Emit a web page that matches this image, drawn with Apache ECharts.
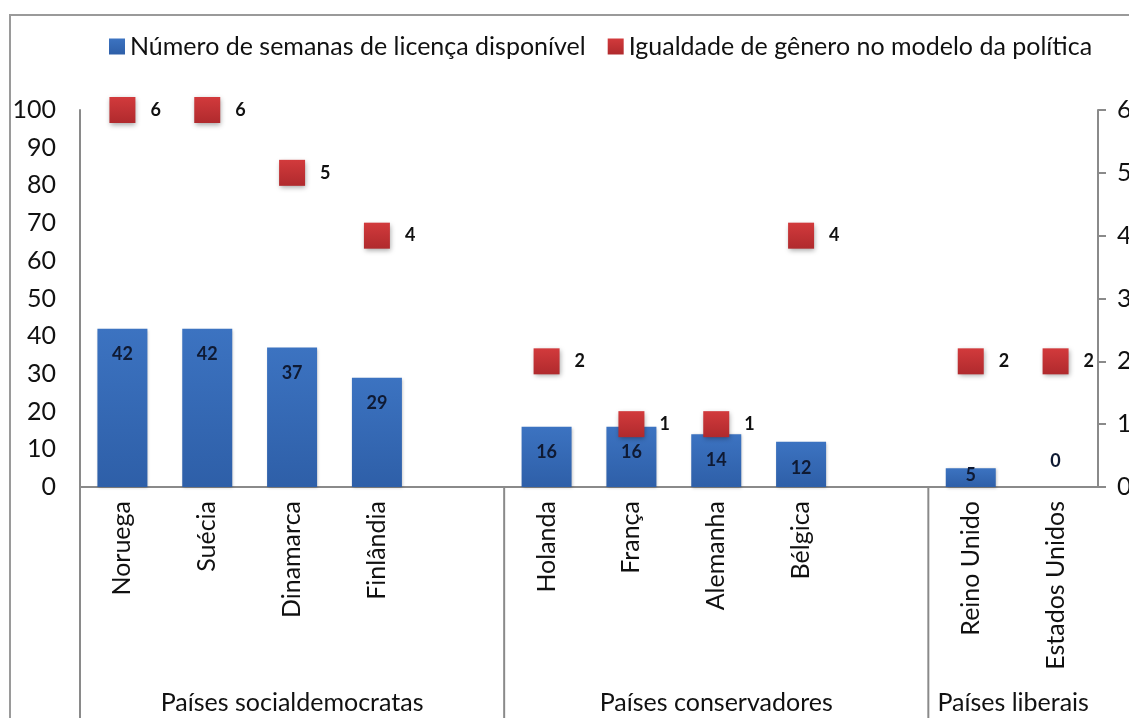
<!DOCTYPE html>
<html>
<head>
<meta charset="utf-8">
<script src="https://cdn.jsdelivr.net/npm/echarts@6/dist/echarts.min.js"></script>
<style>
  html, body { margin: 0; padding: 0; background: #fff; }
  #chart { width: 1129px; height: 718px; }
</style>
</head>
<body>
<div id="chart"></div>
<script>
// categorias (slots vazios separam os grupos)
var countries = ['Noruega', 'Suécia', 'Dinamarca', 'Finlândia', ' ',
  'Holanda', 'França', 'Alemanha', 'Bélgica', '  ',
  'Reino Unido', 'Estados Unidos'];
var weeks = [42, 42, 37, 29, '-', 16, 16, 14, 12, '-', 5, 0];
var equality = [6, 6, 5, 4, '-', 2, 1, 1, 4, '-', 2, 2];
var leftTicks = [0, 100, 10];
var rightTicks = [0, 6, 1];
// grupos: nome, primeiro e último índice
var groupNames = ['Países socialdemocratas', 'Países conservadores', 'Países liberais'];
var groupFrom = [0, 5, 10];
var groupTo = [4, 9, 11];

var FONT = 'Lato, "Open Sans", sans-serif';
var GRAY = '#8a8a8a';

var chart = echarts.init(document.getElementById('chart'));

var barData = weeks.map(function (v, i) {
  if (v === '-') return v;
  var item = { value: v };
  if (v === 0) item.label = { position: 'top', distance: 17 };
  else if (v < 8) item.label = { position: 'insideBottom', distance: 3 };
  return item;
});

chart.setOption({
  animation: false,
  textStyle: { fontFamily: FONT },
  legend: {
    left: 104,
    top: 29,
    itemWidth: 16,
    itemHeight: 16,
    itemGap: 22,
    icon: 'rect',
    textStyle: { fontSize: 25, color: '#111', fontFamily: FONT },
    data: ['Número de semanas de licença disponível', 'Igualdade de gênero no modelo da política']
  },
  grid: { left: 80, right: 31, top: 110, bottom: 231, outerBoundsMode: 'none', containLabel: false },
  xAxis: {
    type: 'category',
    data: countries,
    axisLine: { lineStyle: { color: GRAY, width: 2 } },
    axisTick: { show: false },
    axisLabel: { rotate: 90, margin: 14, fontSize: 25, color: '#111', fontFamily: FONT, interval: 0 }
  },
  yAxis: [{
    type: 'value',
    min: leftTicks[0], max: leftTicks[1], interval: leftTicks[2],
    axisLine: { show: true, lineStyle: { color: GRAY, width: 2 } },
    axisTick: { show: false },
    splitLine: { show: false },
    axisLabel: { margin: 24, fontSize: 25, color: '#111', fontFamily: FONT }
  }, {
    type: 'value',
    position: 'right',
    min: rightTicks[0], max: rightTicks[1], interval: rightTicks[2],
    axisLine: { show: true, lineStyle: { color: GRAY, width: 2 } },
    axisTick: { show: true, length: 8, lineStyle: { color: GRAY, width: 2 } },
    splitLine: { show: false },
    axisLabel: { margin: 19, fontSize: 25, color: '#111', fontFamily: FONT }
  }],
  series: [{
    name: 'Número de semanas de licença disponível',
    type: 'bar',
    barWidth: 50,
    data: barData,
    itemStyle: {
      color: new echarts.graphic.LinearGradient(0, 0, 0, 1, [
        { offset: 0, color: '#3c73c1' },
        { offset: 1, color: '#2e5fa8' }
      ]),
      shadowBlur: 3,
      shadowColor: 'rgba(0,0,0,0.25)',
      shadowOffsetX: 1,
      shadowOffsetY: 1
    },
    label: {
      show: true,
      position: 'insideTop',
      distance: 17,
      fontSize: 18,
      fontWeight: 'bold',
      color: '#0f1a33',
      fontFamily: FONT,
      textShadowBlur: 0,
      textShadowColor: 'transparent'
    }
  }, {
    name: 'Igualdade de gênero no modelo da política',
    type: 'scatter',
    yAxisIndex: 1,
    symbol: 'rect',
    symbolSize: 26,
    data: equality,
    z: 5,
    itemStyle: {
      opacity: 1,
      color: new echarts.graphic.LinearGradient(0, 0, 0, 1, [
        { offset: 0, color: '#d23a3c' },
        { offset: 1, color: '#b02a2d' }
      ]),
      shadowBlur: 5,
      shadowColor: 'rgba(0,0,0,0.35)',
      shadowOffsetX: 1,
      shadowOffsetY: 2
    },
    label: {
      show: true,
      position: 'right',
      distance: 15,
      fontSize: 18,
      fontWeight: 'bold',
      color: '#111',
      fontFamily: FONT,
      textShadowBlur: 0,
      textShadowColor: 'transparent'
    }
  }]
});

// divisores, moldura e nomes dos grupos
var c0 = chart.convertToPixel({ xAxisIndex: 0 }, countries[0]);
var c1 = chart.convertToPixel({ xAxisIndex: 0 }, countries[1]);
var half = (c1 - c0) / 2;
var yBase = chart.convertToPixel({ yAxisIndex: 0 }, 0);
var H = 718;
var graphic = [{
  type: 'polyline',
  shape: { points: [[10, H + 5], [10, 15], [1140, 15]] },
  style: { stroke: '#9a9a9a', lineWidth: 2, fill: null }
}];
groupNames.forEach(function (name, g) {
  var xa = chart.convertToPixel({ xAxisIndex: 0 }, countries[groupFrom[g]]) - half;
  var xb = chart.convertToPixel({ xAxisIndex: 0 }, countries[groupTo[g]]) + half;
  graphic.push({
    type: 'line',
    shape: { x1: xa, y1: yBase, x2: xa, y2: H + 5 },
    style: { stroke: GRAY, lineWidth: 2 }
  });
  graphic.push({
    type: 'text',
    x: (xa + xb) / 2,
    y: 703,
    style: {
      text: name, fontSize: 25, fill: '#111', fontFamily: FONT,
      align: 'center', verticalAlign: 'middle'
    }
  });
});
chart.setOption({ graphic: graphic });
</script>
</body>
</html>
